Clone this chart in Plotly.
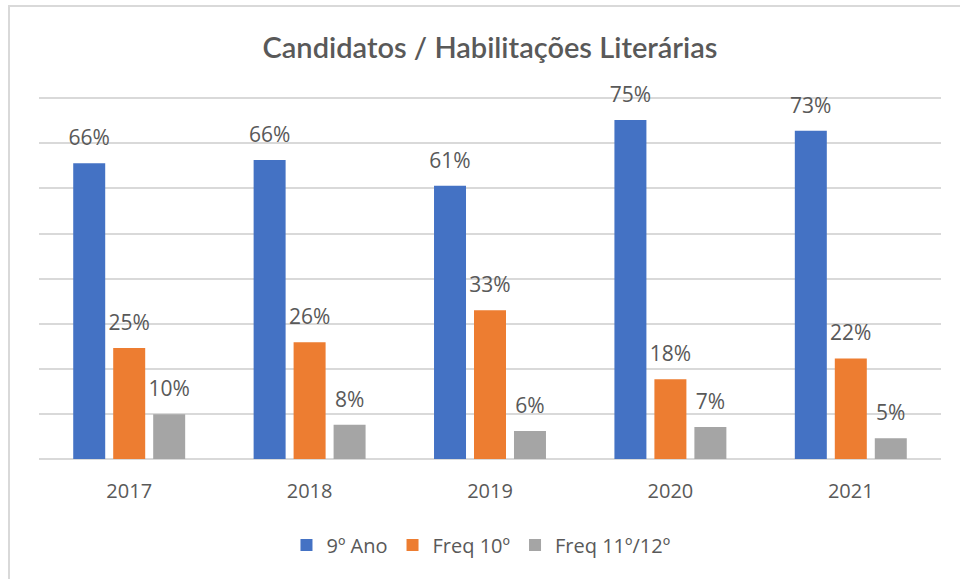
import plotly.graph_objects as go

years = ["2017", "2018", "2019", "2020", "2021"]
ano9 = [0.656, 0.663, 0.606, 0.752, 0.728]
freq10 = [0.246, 0.259, 0.330, 0.177, 0.223]
freq11_12 = [0.099, 0.076, 0.062, 0.071, 0.046]

series = [
    ("9º Ano", ano9, "#4472C4"),
    ("Freq 10º", freq10, "#ED7D31"),
    ("Freq 11º/12º", freq11_12, "#A5A5A5"),
]

GREY = "#595959"
fig = go.Figure()
for i, (name, vals, col) in enumerate(series):
    fig.add_trace(go.Bar(
        x=years, y=vals, name=name, marker_color=col, marker_line_width=0,
        offsetgroup=str(i), alignmentgroup="a", hoverinfo="skip",
    ))
for i, (name, vals, col) in enumerate(series):
    fig.add_trace(go.Scatter(
        x=years, y=vals, mode="markers+text", showlegend=False,
        offsetgroup=str(i), alignmentgroup="a", hoverinfo="skip",
        marker=dict(size=19, color="rgba(0,0,0,0)"),
        text=[f"{round(v*100)}%" for v in vals], textposition="top center",
        textfont=dict(family="Open Sans", size=21, color=GREY),
        cliponaxis=False,
    ))

T, B = 96, 120
H = 579 - T - B
def py(pix):
    return (579 - B - pix) / H

fig.update_layout(
    width=960, height=579,
    margin=dict(l=39, r=19, t=T, b=B),
    paper_bgcolor="white", plot_bgcolor="white",
    barmode="group", bargap=0.335, bargroupgap=0.2,
    scattermode="group", scattergap=0.335,
    title=dict(text="Candidatos / Habilitações Literárias", x=0.5, xanchor="center", xref="paper",
               y=1 - 48/579, yanchor="middle", yref="container",
               font=dict(family="Lato", size=29, color=GREY, weight=600)),
    yaxis=dict(range=[0, 0.805], dtick=0.1, tick0=0, showticklabels=False, showgrid=True,
               gridcolor="#D9D9D9", gridwidth=1.5, zeroline=True,
               zerolinecolor="#D9D9D9", zerolinewidth=1.5, fixedrange=True),
    xaxis=dict(showgrid=False, ticks="", ticklabelstandoff=18, fixedrange=True,
               tickfont=dict(family="Open Sans", size=20, color=GREY)),
    legend=dict(orientation="h", x=0.49, xanchor="center", y=py(545), yanchor="middle",
                font=dict(family="Open Sans", size=20, color=GREY),
                traceorder="normal"),
    showlegend=True,
    shapes=[
        dict(type="line", xref="paper", yref="paper", x0=(8-39)/902, x1=(970-39)/902,
             y0=py(6), y1=py(6), line=dict(color="#D9D9D9", width=2)),
        dict(type="line", xref="paper", yref="paper", x0=(9-39)/902, x1=(9-39)/902,
             y0=py(6), y1=py(590), line=dict(color="#D9D9D9", width=2)),
    ],
)

fig.write_html("out.html", config={"displayModeBar": False},
               post_script="document.body.style.margin='0';document.body.style.overflow='hidden';")
